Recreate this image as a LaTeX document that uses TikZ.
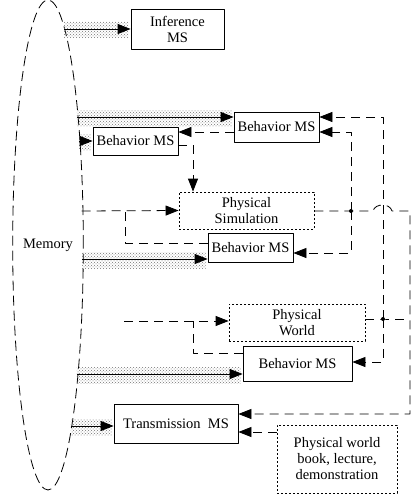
\documentclass[tikz,border=0pt]{standalone}
\usepackage{fontspec}
\setmainfont{Liberation Serif}
\usetikzlibrary{shapes.geometric,arrows.meta,patterns,calc}

\begin{document}
\begin{tikzpicture}[x=1pt, y=-1pt, font=\fontsize{14.5}{16}\selectfont, line join=round,
		>={Triangle[length=13pt,width=10pt]},
		box/.style={draw, line width=0.8pt, align=center, inner sep=0pt},
		world/.style={draw, line width=0.8pt, dash pattern=on 2pt off 2pt, align=center, inner sep=0pt},
		memory/.style={draw, ellipse, line width=0.8pt, dash pattern=on 10pt off 5pt, minimum width=68pt, minimum height=490pt, inner sep=0pt},
		ctrl/.style={line width=0.8pt, dash pattern=on 9pt off 6pt},
		data/.style={line width=0.8pt},
		dotband/.style={pattern=crosshatch dots, pattern color=black!55}]
		\def\memx(#1){48+34*sqrt(1-(((#1)-245)/245)^2)}
		\useasboundingbox (0,0) rectangle (414,495);
		% memory and modules
		\node[memory] (mem) at (48,245) {Memory};
		\node[box, minimum width=93pt, minimum height=40pt] (inf) at (177.5,29) {Inference\\MS};
		\node[box, minimum width=85pt, minimum height=30pt] (bh1) at (276.5,127) {Behavior MS};
		\node[box, minimum width=85pt, minimum height=28pt] (bh2) at (135.5,141) {Behavior MS};
		\node[world, minimum width=135pt, minimum height=37pt] (sim) at (246.5,210.5) {Physical\\Simulation};
		\node[box, minimum width=85pt, minimum height=29pt] (bh3) at (250.5,247.5) {Behavior MS};
		\node[world, minimum width=136pt, minimum height=37pt] (pw) at (297,322.5) {Physical\\World};
		\node[box, minimum width=109pt, minimum height=35pt] (bh4) at (297.5,363.5) {Behavior MS};
		\node[box, minimum width=124pt, minimum height=39pt] (trans) at (176,423.5) {Transmission\enspace MS};
		\node[world, minimum width=120pt, minimum height=68pt] (book) at (337,459) {Physical world\\book, lecture,\\demonstration};
		% points on the memory border
		\coordinate (m1) at ({\memx(29)},29);
		\coordinate (m2) at ({\memx(117)},117);
		\coordinate (m3) at ({\memx(141)},141);
		\coordinate (m4) at ({\memx(211)},211);
		\coordinate (m5) at ({\memx(259)},259);
		\coordinate (m6) at ({\memx(374)},374);
		\coordinate (m7) at ({\memx(426)},426);
		\coordinate (e2) at (bh1.west |- m2);
		\coordinate (e5) at (bh3.west |- m5);
		\coordinate (e6) at (bh4.west |- m6);
		\coordinate (e7) at (trans.west |- m7);
		% data flow from memory
		\foreach \s/\t in {m1/inf.west, m2/e2, m3/bh2.west, m5/e5, m6/e6, m7/e7} {
			\fill[dotband] ($(\s)+(0,-7)$) rectangle ($(\t)+(-2,9)$);
			\draw[data,->] (\s) -- (\t);
		}
		% control flow
		\coordinate (j1) at (351,211);
		\coordinate (j2) at (383,319);
		\coordinate (w0) at (124,321);
		\draw[ctrl,->] (bh1.west |- 0,132) -- (bh2.east |- 0,132);
		\draw[ctrl,->] (bh2.east |- 0,145) -| (sim.north -| 193,0);
		\draw[ctrl,->] (m4) -- (sim.west);
		\draw[ctrl] (bh3.west |- 0,243) -| (125,211);
		\draw[ctrl,->] (sim.east |- j1) -- (j1) -- (373,211) .. controls (375,203) and (390,203) .. (392,211)
			-- (410,211) |- (trans.east |- 0,414);
		\draw[ctrl,->] (j1) |- (bh1.east |- 0,132);
		\draw[ctrl,->] (j1) |- (bh3.east |- 0,253);
		\fill (j1) circle (2pt);
		\draw[ctrl,->] (w0) -- (pw.west |- w0);
		\draw[ctrl] (bh4.west |- 0,353) -| (193,321);
		\draw[ctrl] (pw.east |- j2) -- (j2) -- (410,319);
		\draw[ctrl,->] (j2) |- (bh1.east |- 0,117);
		\draw[ctrl,->] (j2) |- (bh4.east |- 0,362);
		\fill (j2) circle (2pt);
		\draw[ctrl,->] (book.west |- 0,432) -- (trans.east |- 0,432);
\end{tikzpicture}
\end{document}
